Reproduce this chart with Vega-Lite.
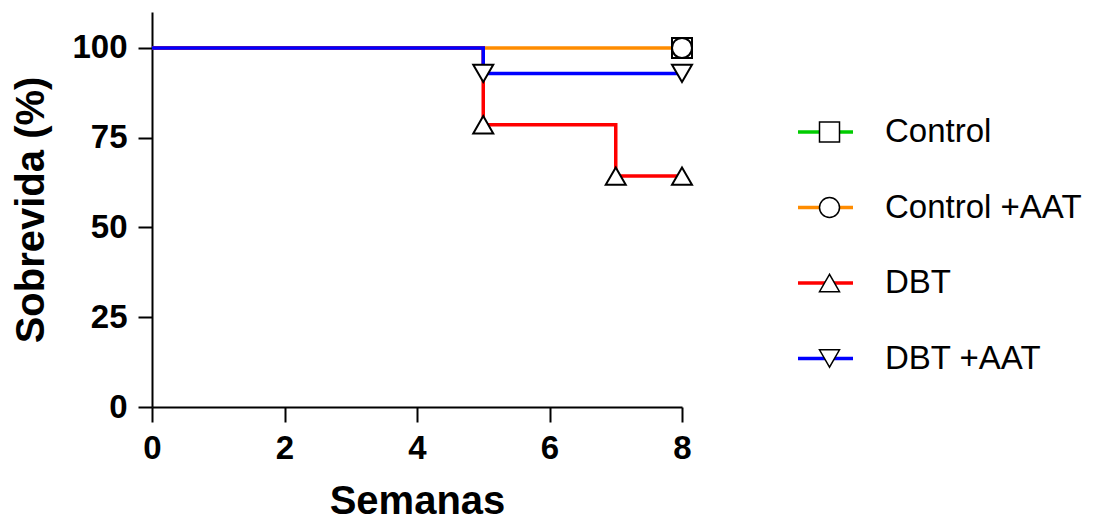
{
  "$schema": "https://vega.github.io/schema/vega-lite/v6.json",
  "autosize": {"type": "none"},
  "padding": {"left": 152, "top": 12, "right": 419, "bottom": 121},
  "width": 530,
  "height": 395,
  "background": "white",
  "config": {
    "view": {"stroke": null},
    "font": "Liberation Sans",
    "axis": {
      "grid": false,
      "domainColor": "black",
      "domainWidth": 2,
      "tickColor": "black",
      "tickWidth": 2,
      "labelFont": "Liberation Sans",
      "labelFontWeight": "bold",
      "labelFontSize": 33,
      "labelColor": "black",
      "titleFont": "Liberation Sans",
      "titleFontWeight": "bold",
      "titleFontSize": 40,
      "titleColor": "black"
    },
    "legend": {"padding": 0}
  },
  "data": {
    "values": [
      {"grupo": "Control", "semana": 0, "sobrevida": 100, "marca": false},
      {"grupo": "Control", "semana": 8, "sobrevida": 100, "marca": true},
      {"grupo": "Control +AAT", "semana": 0, "sobrevida": 100, "marca": false},
      {"grupo": "Control +AAT", "semana": 8, "sobrevida": 100, "marca": true},
      {"grupo": "DBT", "semana": 0, "sobrevida": 100, "marca": false},
      {"grupo": "DBT", "semana": 5, "sobrevida": 78.6, "marca": true},
      {"grupo": "DBT", "semana": 7, "sobrevida": 64.3, "marca": true},
      {"grupo": "DBT", "semana": 8, "sobrevida": 64.3, "marca": true},
      {"grupo": "DBT +AAT", "semana": 0, "sobrevida": 100, "marca": false},
      {"grupo": "DBT +AAT", "semana": 5, "sobrevida": 92.9, "marca": true},
      {"grupo": "DBT +AAT", "semana": 8, "sobrevida": 92.9, "marca": true}
    ]
  },
  "encoding": {
    "x": {
      "field": "semana",
      "type": "quantitative",
      "scale": {"domain": [0, 8], "nice": false},
      "axis": {
        "title": "Semanas",
        "values": [0, 2, 4, 6, 8],
        "tickSize": 15,
        "labelPadding": 10,
        "labelFlush": false,
        "titlePadding": 16
      }
    },
    "y": {
      "field": "sobrevida",
      "type": "quantitative",
      "scale": {"domain": [0, 110], "nice": false},
      "axis": {
        "title": "Sobrevida (%)",
        "values": [0, 25, 50, 75, 100],
        "tickSize": 14,
        "labelPadding": 11,
        "labelFlush": false,
        "titlePadding": 20
      }
    },
    "color": {
      "field": "grupo",
      "type": "nominal",
      "scale": {
        "domain": ["Control", "Control +AAT", "DBT", "DBT +AAT"],
        "range": ["#00CC00", "#FF8C00", "#FF0000", "#0000FF"]
      },
      "legend": {
        "title": null,
        "orient": "none",
        "legendX": 644,
        "legendY": 100,
        "symbolType": "stroke",
        "symbolSize": 3025,
        "symbolStrokeWidth": 3.5,
        "clipHeight": 40,
        "rowPadding": 35.5,
        "labelFont": "Liberation Sans",
        "labelFontSize": 33,
        "labelColor": "black",
        "labelOffset": 30,
        "labelLimit": 400,
        "encode": {
          "symbols": {"update": {"strokeWidth": {"value": 3.5}}}
        }
      }
    }
  },
  "layer": [
    {
      "transform": [{"filter": "datum.grupo === 'Control'"}],
      "mark": {"type": "line", "interpolate": "step-after", "strokeWidth": 2}
    },
    {
      "transform": [{"filter": "datum.grupo !== 'Control'"}],
      "mark": {"type": "line", "interpolate": "step-after", "strokeWidth": 3.5}
    },
    {
      "transform": [{"filter": "datum.marca"}],
      "mark": {"type": "point", "filled": true, "fill": "white", "stroke": "black", "strokeWidth": 2, "size": 400, "opacity": 1},
      "encoding": {
        "color": {"value": "white"},
        "shape": {
          "field": "grupo",
          "type": "nominal",
          "scale": {"range": ["square", "circle", "triangle-up", "triangle-down"]},
          "legend": {
            "title": null,
            "orient": "none",
            "legendX": 661,
            "legendY": 100,
            "symbolSize": 400,
            "clipHeight": 40,
            "rowPadding": 35.5,
            "labelFontSize": 33,
            "labelExpr": "''",
            "encode": {
              "symbols": {
                "update": {
                  "fill": {"value": "white"},
                  "stroke": {"value": "black"},
                  "strokeWidth": {"value": 2},
                  "opacity": {"value": 1}
                }
              }
            }
          }
        }
      }
    }
  ]
}
